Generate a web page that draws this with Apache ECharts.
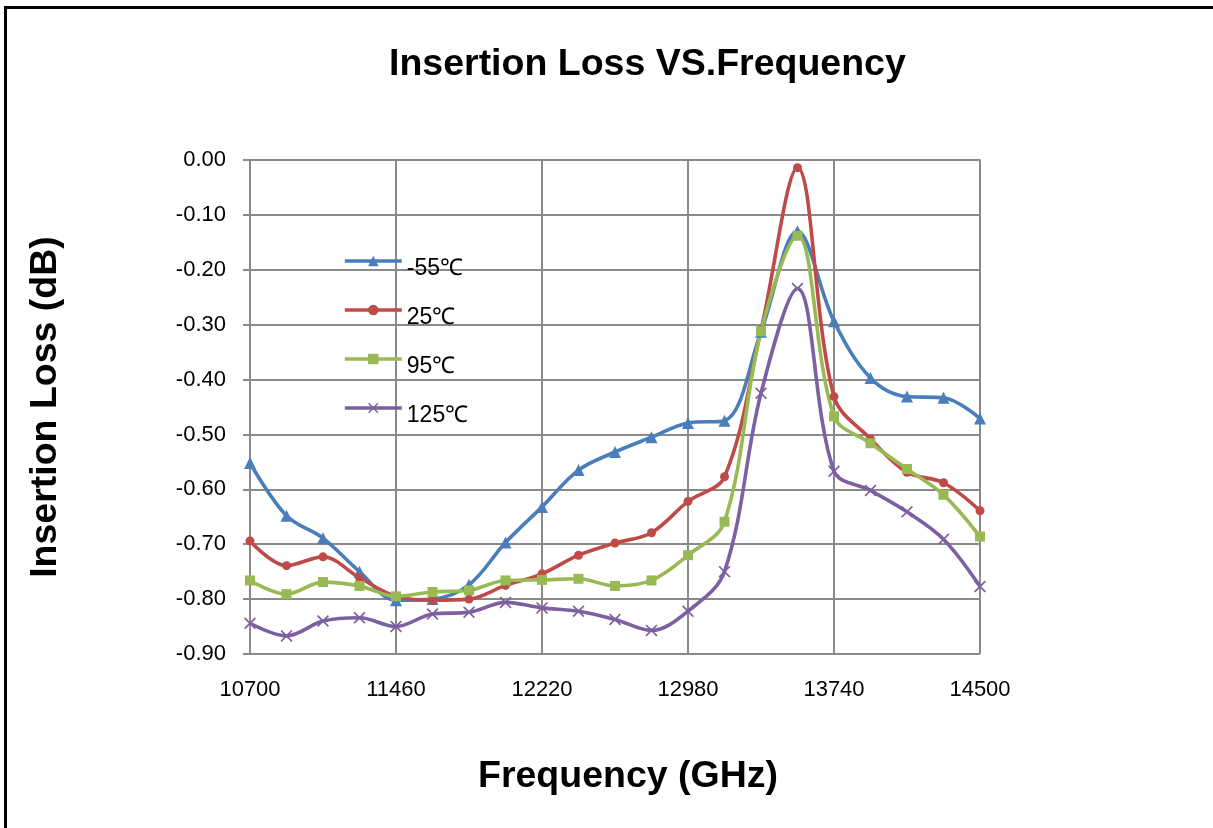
<!DOCTYPE html>
<html>
<head>
<meta charset="utf-8">
<style>
  html, body { margin: 0; padding: 0; background: #fff; }
  #chart { width: 1213px; height: 828px; }
</style>
<script src="https://cdn.jsdelivr.net/npm/echarts@6/dist/echarts.min.js"></script>
</head>
<body>
<div id="chart"></div>
<script>
// frequency points (every 190)
const freqs = [
  '10700', '10890', '11080', '11270', '11460', '11650', '11840', '12030', '12220', '12410', '12600',
  '12790', '12980', '13170', '13360', '13550', '13740', '13930', '14120', '14310', '14500'
];
const seriesNames = ['-55℃', '25℃', '95℃', '125℃'];
const lossM55 = [-0.552, -0.648, -0.689, -0.750, -0.802, -0.800, -0.774, -0.697, -0.632, -0.565, -0.532,
  -0.505, -0.479, -0.475, -0.313, -0.130, -0.294, -0.397, -0.431, -0.433, -0.471];
const loss25 = [-0.694, -0.739, -0.723, -0.761, -0.795, -0.802, -0.800, -0.775, -0.754, -0.720, -0.698,
  -0.679, -0.622, -0.577, -0.310, -0.014, -0.431, -0.508, -0.569, -0.588, -0.639];
const loss95 = [-0.766, -0.791, -0.769, -0.776, -0.795, -0.787, -0.784, -0.766, -0.765, -0.763, -0.776,
  -0.766, -0.720, -0.659, -0.312, -0.138, -0.467, -0.516, -0.563, -0.610, -0.686];
const loss125 = [-0.844, -0.867, -0.840, -0.834, -0.850, -0.827, -0.824, -0.806, -0.816, -0.822, -0.837,
  -0.857, -0.822, -0.750, -0.425, -0.234, -0.567, -0.602, -0.641, -0.691, -0.777];

const colors = ['#4a7ebb', '#be4b48', '#98b954', '#7d60a0'];
const crossPath = 'path://M1,0L5,4L9,0L10,1L6,5L10,9L9,10L5,6L1,10L0,9L4,5L0,1Z';
const font = 'Liberation Sans, Arial, sans-serif';
const gridColor = '#8a8a8a';

const chart = echarts.init(document.getElementById('chart'));

function makeSeries(name, data, color, symbol, size) {
  return {
    name: name,
    type: 'line',
    data: data,
    smooth: 0.35,
    symbol: symbol,
    symbolSize: size,
    showSymbol: true,
    lineStyle: { color: color, width: 3.6 },
    itemStyle: { color: color },
    emphasis: { disabled: true },
  };
}

const option = {
  animation: false,
  title: {
    text: 'Insertion Loss VS.Frequency',
    left: 389,
    top: 46,
    padding: 0,
    textStyle: { fontFamily: font, fontSize: 37.5, fontWeight: 'bold', color: '#000' },
  },
  legend: {
    orient: 'vertical',
    left: 343,
    top: 242,
    padding: 0,
    itemWidth: 57,
    itemHeight: 13,
    itemGap: 11,
    data: seriesNames,
    lineStyle: { width: 3.6 },
    formatter: (name) => '{t|' + name + '}',
    textStyle: {
      rich: {
        t: {
          fontFamily: font,
          fontSize: 23,
          color: '#000',
          lineHeight: 24,
          padding: [15, 0, 0, 0],
        },
      },
    },
  },
  grid: { left: 250, right: 233, top: 160, bottom: 174, containLabel: false },
  xAxis: {
    type: 'category',
    data: freqs,
    boundaryGap: false,
    axisLine: { lineStyle: { color: gridColor, width: 2 } },
    axisTick: { show: true, interval: 3, length: 5, lineStyle: { color: gridColor, width: 2 } },
    axisLabel: { interval: 3, margin: 25, fontFamily: font, fontSize: 22, color: '#000' },
    splitLine: { show: true, interval: 3, lineStyle: { color: gridColor, width: 2 } },
  },
  yAxis: {
    type: 'value',
    min: -0.9,
    max: 0,
    interval: 0.1,
    name: 'Insertion Loss (dB)',
    nameLocation: 'middle',
    nameGap: 185,
    nameTextStyle: { fontFamily: font, fontSize: 37.5, fontWeight: 'bold', color: '#000' },
    axisLine: { show: true, lineStyle: { color: gridColor, width: 2 } },
    axisTick: { show: true, length: 7, lineStyle: { color: gridColor, width: 2 } },
    axisLabel: {
      margin: 24,
      fontFamily: font,
      fontSize: 22,
      color: '#000',
      formatter: (v) => (Math.abs(v) < 1e-9 ? 0 : v).toFixed(2),
    },
    splitLine: { show: true, lineStyle: { color: gridColor, width: 2 } },
  },
  graphic: [
    {
      type: 'polyline',
      shape: { points: [[5.5, 830], [5.5, 7.5], [1215, 7.5]] },
      style: { stroke: '#000', lineWidth: 3, fill: null },
      silent: true,
    },
    {
      type: 'text',
      x: 628,
      y: 777,
      style: {
        text: 'Frequency (GHz)',
        fontFamily: font,
        fontSize: 37.5,
        fontWeight: 'bold',
        fill: '#000',
        align: 'center',
        verticalAlign: 'middle',
      },
      silent: true,
    },
  ],
  series: [
    makeSeries(seriesNames[0], lossM55, colors[0], 'triangle', 12),
    makeSeries(seriesNames[1], loss25, colors[1], 'circle', 9),
    makeSeries(seriesNames[2], loss95, colors[2], 'rect', 10),
    makeSeries(seriesNames[3], loss125, colors[3], crossPath, 12),
  ],
};

chart.setOption(option);
</script>
</body>
</html>
